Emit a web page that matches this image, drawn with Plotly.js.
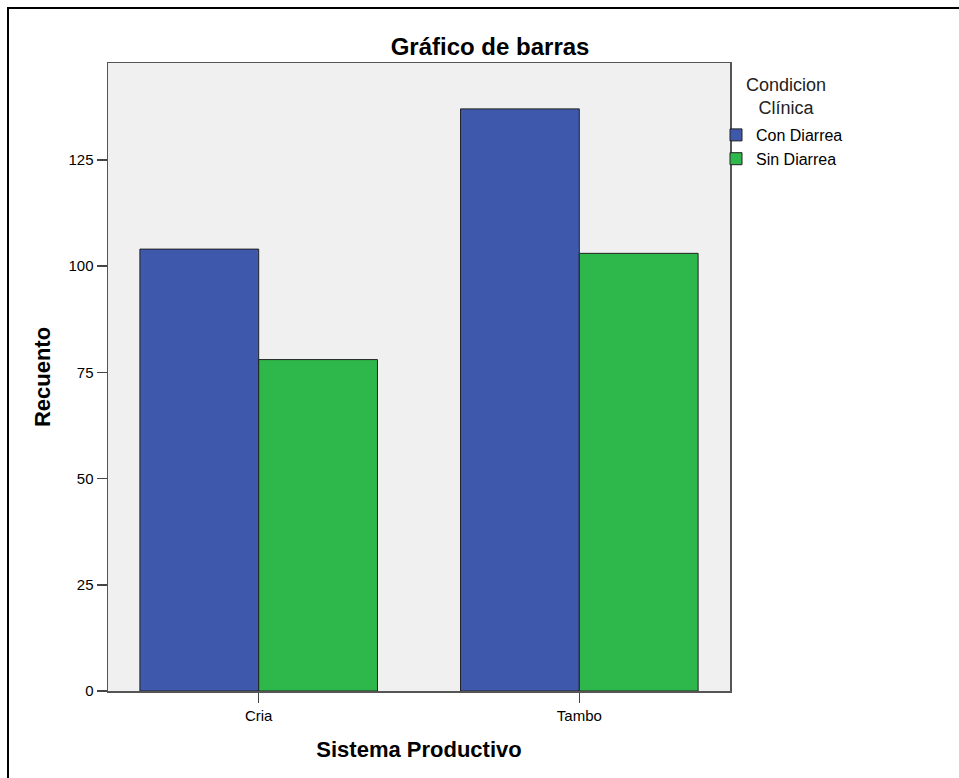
<!DOCTYPE html>
<html>
<head>
<meta charset="utf-8">
<script src="https://cdn.plot.ly/plotly-3.0.1.min.js"></script>
<style>
  html, body { margin: 0; padding: 0; background: #ffffff; }
  #frame { position: absolute; left: 7px; top: 7px; width: 960px; height: 780px;
           border-left: 2px solid #000; border-top: 2px solid #000; box-sizing: border-box; }
  #chart { position: absolute; left: 0; top: 0; width: 959px; height: 778px; }
</style>
</head>
<body>
<div id="chart"></div>
<div id="frame"></div>
<script>
const categories = ["Cria", "Tambo"];
const seriesNames = ["Con Diarrea", "Sin Diarrea"];
const conDiarrea = [104, 137];
const sinDiarrea = [78, 103];
const yTicks = [0, 25, 50, 75, 100, 125];

const font = "Liberation Sans, Arial, sans-serif";

const data = [
  { type: "bar", name: seriesNames[0], x: categories, y: conDiarrea,
    marker: { color: "#3E58AC", line: { color: "#222222", width: 1 } } },
  { type: "bar", name: seriesNames[1], x: categories, y: sinDiarrea,
    marker: { color: "#2EB84B", line: { color: "#222222", width: 1 } } }
];

const layout = {
  width: 959, height: 778,
  margin: { l: 108, r: 229, t: 63, b: 87 },
  paper_bgcolor: "#ffffff",
  plot_bgcolor: "#F0F0F0",
  barmode: "group",
  bargap: 0.259,
  bargroupgap: 0,
  font: { family: font, color: "#000" },
  title: { text: "Gráfico de barras", font: { family: font, size: 24, color: "#000", weight: "bold" },
           x: 0.511, xref: "container", xanchor: "center", y: 1, yref: "paper", yanchor: "bottom", pad: { b: 8 } },
  xaxis: {
    type: "category",
    range: [-0.47, 1.47],
    title: { text: "Sistema Productivo", font: { family: font, size: 22, weight: "bold" }, standoff: 19 },
    showline: true, linecolor: "#555", linewidth: 1.5, mirror: true,
    ticks: "outside", ticklen: 10, tickcolor: "#444", tickwidth: 1.5,
    tickfont: { family: font, size: 15 },
    showgrid: false, zeroline: false
  },
  yaxis: {
    title: { text: "Recuento", font: { family: font, size: 22, weight: "bold" }, standoff: 12 },
    range: [0, 147.8],
    tickvals: yTicks,
    showline: true, linecolor: "#555", linewidth: 1.5, mirror: true,
    ticks: "outside", ticklen: 10, tickcolor: "#444", tickwidth: 1.5,
    tickfont: { family: font, size: 15 },
    showgrid: false, zeroline: false
  },
  legend: {
    x: (716 - 108) / 622, xanchor: "left", y: (691 - 118) / 628, yanchor: "top",
    bgcolor: "rgba(0,0,0,0)",
    font: { family: font, size: 16 },
    itemwidth: 30,
    tracegroupgap: 0
  },
  annotations: [{
    text: "Condicion<br>Clínica", xref: "paper", yref: "paper",
    x: (786 - 108) / 622, y: (691 - 96) / 628, xanchor: "center", yanchor: "middle",
    showarrow: false, align: "center", font: { family: font, size: 18, color: "#222" }
  }],
  showlegend: true
};

Plotly.newPlot("chart", data, layout, { displayModeBar: false, staticPlot: true });
</script>
</body>
</html>
